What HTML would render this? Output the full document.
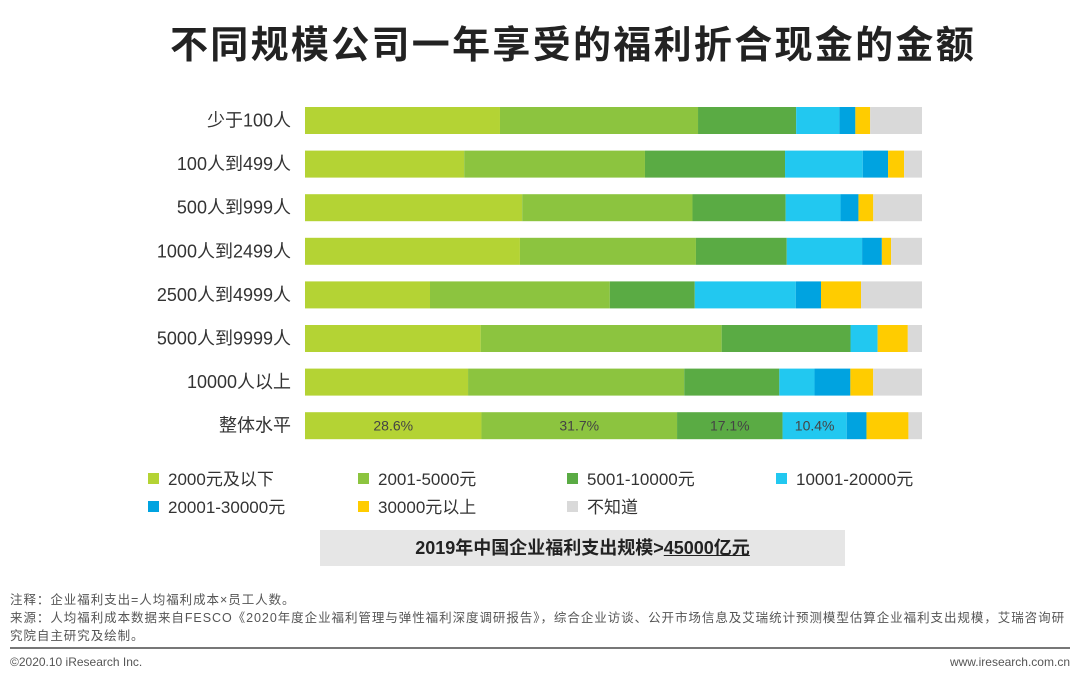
<!DOCTYPE html>
<html><head><meta charset="utf-8"><style>
body{margin:0;width:1080px;height:683px;background:#fff;font-family:"Liberation Sans","Noto Sans CJK SC",sans-serif;position:relative;overflow:hidden}
.t{position:absolute;white-space:nowrap}
</style></head><body>
<div class="t" style="left:170px;top:14px;font-size:38px;letter-spacing:2.3px;font-weight:bold;color:#222">不同规模公司一年享受的福利折合现金的金额</div>
<svg id="c" width="1080" height="683" style="position:absolute;left:0;top:0"></svg>
<div class="t" style="left:320px;top:530px;width:525px;height:36px;background:#e6e6e6;text-align:center;line-height:36px;font-size:18px;font-weight:bold;color:#222">2019年中国企业福利支出规模&gt;<u>45000亿元</u></div>
<div class="t" style="left:10px;top:591px;font-size:12.5px;letter-spacing:0.95px;color:#555;line-height:18px">注释：企业福利支出=人均福利成本×员工人数。<br>来源：人均福利成本数据来自FESCO《2020年度企业福利管理与弹性福利深度调研报告》，综合企业访谈、公开市场信息及艾瑞统计预测模型估算企业福利支出规模，艾瑞咨询研<br>究院自主研究及绘制。</div>
<div style="position:absolute;left:10px;top:647px;width:1060px;height:2px;background:#777"></div>
<div class="t" style="left:10px;top:655px;font-size:12px;color:#555">©2020.10 iResearch Inc.</div>
<div class="t" style="right:10px;top:655px;font-size:12px;color:#555">www.iresearch.com.cn</div>
<script>
const categories=["少于100人","100人到499人","500人到999人","1000人到2499人","2500人到4999人","5000人到9999人","10000人以上","整体水平"];
const seriesNames=["2000元及以下","2001-5000元","5001-10000元","10001-20000元","20001-30000元","30000元以上","不知道"];
const s1=[31.6,25.8,35.2,34.8,20.3,28.5,26.4,28.6];
const s2=[32.1,29.3,27.6,28.5,29.2,39.1,35.0,31.7];
const s3=[15.9,22.7,15.1,14.7,13.8,20.9,15.4,17.1];
const s4=[7.0,12.6,8.9,12.2,16.4,4.4,5.7,10.4];
const s5=[2.6,4.1,2.9,3.2,4.1,0,5.8,3.2];
const s6=[2.4,2.6,2.4,1.5,6.5,4.9,3.7,6.8];
const s7=[8.4,2.9,7.9,5.0,9.9,2.3,7.9,2.2];
const series=[s1,s2,s3,s4,s5,s6,s7];
const colors=["#b4d334","#8cc43f","#5aab44","#22c8f0","#00a3e0","#ffcc00","#d9d9d9"];
const svg=document.getElementById('c');const NS="http://www.w3.org/2000/svg";
const x0=305,W=617,y0=107,step=43.6,bh=27;
function mk(t,a){const e=document.createElementNS(NS,t);for(const k in a)e.setAttribute(k,a[k]);svg.appendChild(e);return e;}
categories.forEach((c,i)=>{
  const y=y0+i*step;
  const lab=mk('text',{x:291,y:y+bh/2+6,'text-anchor':'end','font-size':18,fill:'#333'});
  lab.textContent=c;
  
  
  const tot=series.reduce((a,s)=>a+s[i],0);
  let acc=0;
  series.forEach((s,j)=>{
    const w=s[i]/tot*W;
    const r=mk('rect',{x:x0+acc/tot*W,y:y,width:w,height:bh,fill:colors[j]});
    
    
    if(i===categories.length-1&&j<4){
      const t=mk('text',{x:x0+acc/tot*W+w/2,y:y+bh/2+5,'text-anchor':'middle','font-size':14,fill:'#444'});
      t.textContent=s[i].toFixed(1)+'%';
      
      
    }
    acc+=s[i];
  });
});
const lx=[148,358,567,776];
seriesNames.forEach((n,j)=>{
  const x=lx[j%4],y=j<4?479:507;
  const r=mk('rect',{x:x,y:y-6,width:11,height:11,fill:colors[j]});
  
  
  const t=mk('text',{x:x+20,y:y+6,'font-size':17,fill:'#333'});
  t.textContent=n;
  
  
});
</script>
</body></html>
